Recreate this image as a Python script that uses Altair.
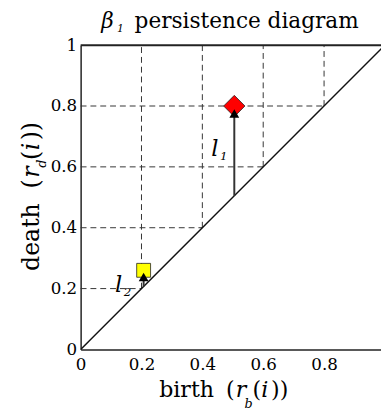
import altair as alt
import pandas as pd

# ---- data ----
grid_vals = [0.2, 0.4, 0.6, 0.8]
tick_vals_x = [0, 0.2, 0.4, 0.6, 0.8]
tick_vals_y = [0, 0.2, 0.4, 0.6, 0.8, 1]
pt_birth = [0.505, 0.207]
pt_death = [0.80, 0.26]
pt_shape = ["diamond", "square"]
pt_color = ["#ff0000", "#ffff00"]
pt_size = [470, 200]
arr_x = [0.505, 0.207]
arr_y0 = [0.505, 0.207]
arr_y1 = [0.77, 0.235]
head_y = [0.775, 0.238]
lab_x = [0.429, 0.113]
lab_y = [0.635, 0.19]
lab_sub = ["1", "2"]

W, H = 306, 310
XMAX = W / H
FONT = "DejaVu Serif"
GRID_C = "#333333"

xs = alt.Scale(domain=[0, XMAX], nice=False, zero=False)
ys = alt.Scale(domain=[0, 1], nice=False)

vgrid = pd.DataFrame({"v": grid_vals, "top": [1.0] * len(grid_vals)})
hgrid = pd.DataFrame({"v": grid_vals, "left": [0.0] * len(grid_vals)})
diag = pd.DataFrame({"x": [0, 1], "y": [0, 1]})
pts = pd.DataFrame({"b": pt_birth, "d": pt_death, "shape": pt_shape,
                    "color": pt_color, "size": pt_size})
arr = pd.DataFrame({"x": arr_x, "y0": arr_y0, "y1": arr_y1, "hy": head_y})
labs = pd.DataFrame({"x": lab_x, "y": lab_y, "l": ["l", "l"], "s": lab_sub})

xaxis = alt.Axis(values=tick_vals_x, format=".1~f", labelPadding=7, title=None)
yaxis = alt.Axis(values=tick_vals_y, format=".1~f", labelPadding=4, title=None)

vg = alt.Chart(vgrid).mark_rule(strokeDash=[6, 4], color=GRID_C, strokeWidth=1).encode(
    x=alt.X("v:Q", scale=xs, axis=xaxis), y=alt.Y("v:Q", scale=ys, axis=yaxis), y2="top:Q")
hg = alt.Chart(hgrid).mark_rule(strokeDash=[6, 4], color=GRID_C, strokeWidth=1).encode(
    y=alt.Y("v:Q", scale=ys, axis=yaxis), x=alt.X("left:Q", scale=xs, axis=xaxis), x2="v:Q")
dg = alt.Chart(diag).mark_line(color="#111", strokeWidth=1.5, clip=True).encode(
    x=alt.X("x:Q", scale=xs, axis=xaxis), y=alt.Y("y:Q", scale=ys, axis=yaxis))
top = alt.Chart(pd.DataFrame({"y": [1.0]})).mark_rule(color="#222", strokeWidth=2).encode(
    y=alt.Y("y:Q", scale=ys, axis=yaxis), x=alt.value(0), x2=alt.value(W))
shaft = alt.Chart(arr).mark_rule(color="#333", strokeWidth=2).encode(
    x=alt.X("x:Q", scale=xs, axis=xaxis), y=alt.Y("y0:Q", scale=ys, axis=yaxis), y2="y1:Q")
points = alt.Chart(pts).mark_point(filled=True, opacity=1, stroke="#222", strokeWidth=0.8).encode(
    x=alt.X("b:Q", scale=xs, axis=xaxis), y=alt.Y("d:Q", scale=ys, axis=yaxis),
    shape=alt.Shape("shape:N", scale=None),
    fill=alt.Fill("color:N", scale=None),
    size=alt.Size("size:Q", scale=None))
heads = alt.Chart(arr).mark_point(shape="triangle-up", filled=True, color="black",
                                  opacity=1, size=100).encode(
    x=alt.X("x:Q", scale=xs, axis=xaxis), y=alt.Y("hy:Q", scale=ys, axis=yaxis))
lab_l = alt.Chart(labs).mark_text(font=FONT, fontStyle="italic", fontSize=23, align="left",
                                  baseline="alphabetic", color="black").encode(
    x=alt.X("x:Q", scale=xs, axis=xaxis), y=alt.Y("y:Q", scale=ys, axis=yaxis), text="l:N")
lab_s = alt.Chart(labs).mark_text(font=FONT, fontStyle="italic", fontSize=12, align="left",
                                  baseline="alphabetic", dx=9, dy=4, color="black").encode(
    x=alt.X("x:Q", scale=xs, axis=xaxis), y=alt.Y("y:Q", scale=ys, axis=yaxis), text="s:N")


def txt(s, x, y, size, align="left", style="normal", angle=0):
    kw = dict(font=FONT, fontSize=size, align=align, baseline="alphabetic",
              fontStyle=style, color="black")
    if angle:
        kw["angle"] = angle
    return alt.Chart(pd.DataFrame({"t": [s]})).mark_text(**kw).encode(
        x=alt.value(x), y=alt.value(y), text="t:N")


title_parts = [
    txt("β", 21, -17, 22, style="italic"),
    txt("1", 37, -13, 11, style="italic"),
    txt("persistence diagram", 55, -17, 22),
]
xtitle_parts = [
    txt("birth", 80, 358, 22.5),
    txt("(", 148, 358, 22.5),
    txt("r", 158, 358, 22.5, style="italic"),
    txt("b", 167, 370, 13, style="italic"),
    txt("(", 175, 358, 22.5),
    txt("i", 184, 358, 22.5, style="italic"),
    txt("))", 194, 358, 22.5),
]
ytitle_parts = [
    txt("death", -42, 230, 24, angle=270),
    txt("(", -42, 146, 24, angle=270),
    txt("r", -42, 135, 24, style="italic", angle=270),
    txt("d", -35, 125, 13, style="italic", angle=270),
    txt("(", -42, 117, 24, angle=270),
    txt("i", -42, 107, 24, style="italic", angle=270),
    txt("))", -42, 97, 24, angle=270),
]

chart = alt.layer(vg, hg, dg, top, shaft, points, heads, lab_l, lab_s,
                  *title_parts, *xtitle_parts, *ytitle_parts).properties(
    width=W, height=H,
    autosize=alt.AutoSizeParams(type="none"),
    padding={"left": 74, "top": 34, "right": 0, "bottom": 66},
).configure_view(stroke=None).configure_axis(
    grid=False, ticks=False, labelFont=FONT, labelFontSize=17, labelColor="black",
    domainColor="#222", domainWidth=1.5, labelFlush=False,
)

chart.save("out.html", embed_options={"renderer": "svg", "actions": False})
